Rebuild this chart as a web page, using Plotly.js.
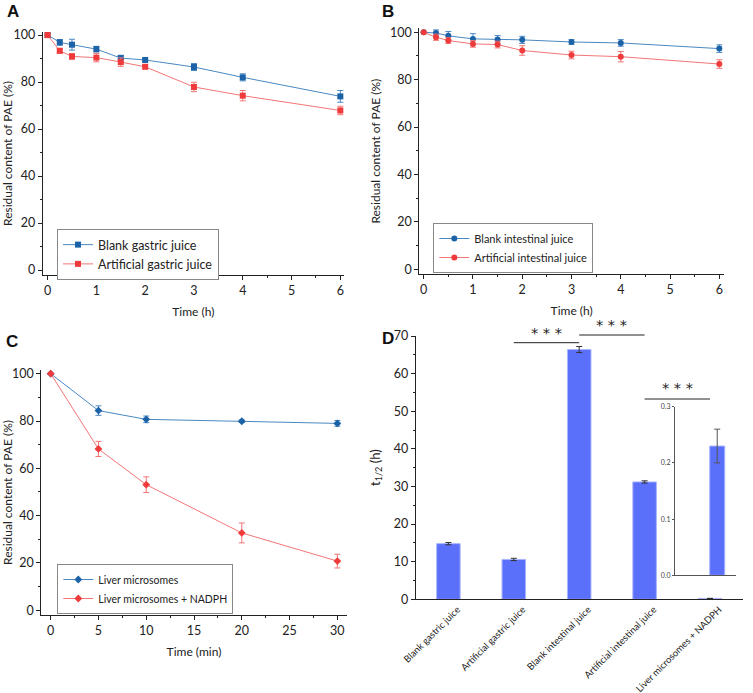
<!DOCTYPE html>
<html>
<head>
<meta charset="utf-8">
<script src="https://cdn.plot.ly/plotly-3.0.1.min.js"></script>
<style>
  html, body { margin: 0; padding: 0; background: #fff; }
  #chart { width: 753px; height: 693px; }
</style>
</head>
<body>
<div id="chart"></div>
<script>
// panel A - gastric juice
var timeH = [0, 0.25, 0.5, 1, 1.5, 2, 3, 4, 6];
var blankGastric = [100, 96.9, 95.9, 94.0, 90.2, 89.4, 86.4, 82.0, 73.9];
var blankGastricErr = [0, 1.2, 2.3, 1.2, 1.2, 0.7, 1.5, 1.5, 2.5];
var artGastric = [100, 93.3, 90.9, 90.4, 88.5, 86.5, 77.9, 74.2, 67.9];
var artGastricErr = [0, 1.0, 1.2, 1.8, 1.8, 0.8, 2.0, 2.2, 1.8];

// panel B - intestinal juice
var blankIntestinal = [100, 99.7, 98.5, 97.2, 97.0, 96.8, 95.9, 95.5, 93.1];
var blankIntestinalErr = [0, 1.3, 1.8, 2.2, 1.6, 1.5, 1.0, 1.4, 1.6];
var artIntestinal = [100, 97.9, 96.5, 95.1, 94.8, 92.3, 90.4, 89.7, 86.6];
var artIntestinalErr = [0, 1.3, 1.2, 1.4, 1.4, 2.0, 1.6, 2.2, 1.8];

// panel C - liver microsomes
var timeMin = [0, 5, 10, 20, 30];
var liver = [100, 84.4, 80.7, 79.9, 79.0];
var liverErr = [0, 2.0, 1.4, 0.5, 1.2];
var liverNadph = [100, 68.2, 53.1, 32.7, 20.8];
var liverNadphErr = [0, 3.2, 3.3, 4.2, 2.9];

// panel D - half lives
var groups = ['Blank gastric juice', 'Artificial gastric juice', 'Blank intestinal juice',
              'Artificial intestinal juice', 'Liver microsomes + NADPH'];
var halfLife = [14.8, 10.6, 66.4, 31.2, 0.23];
var halfLifeErr = [0.3, 0.3, 0.8, 0.3, 0.03];

// significance brackets between groups
var sigPairs = [[1, 2], [2, 3], [3, 4]];
var sigLineY = [342.7, 335, 399];   // px from top
var sigStarY = [330, 322, 385];

var H = 693, W = 753;
var BLUE = '#1c62a6', BLUE_L = '#4a88c2';
var RED = '#ef3b3b', RED_L = '#f27676';
var BAR = '#5a6ffa';
var FONT = 'Lato, sans-serif';

function py(px) { return 1 - px / H; }
function pxx(px) { return px / W; }

function lineTrace(x, y, err, name, color, lcolor, sym, xa, ya, leg) {
  return {
    x: x, y: y, name: name, type: 'scatter', mode: 'lines+markers',
    xaxis: xa, yaxis: ya, legend: leg,
    line: { color: lcolor, width: 1 },
    marker: { color: color, symbol: sym, size: 6 },
    error_y: { type: 'data', array: err, color: lcolor, thickness: 1, width: 3 },
    cliponaxis: false
  };
}

var data = [
  lineTrace(timeH, blankGastric, blankGastricErr, 'Blank gastric juice', BLUE, BLUE_L, 'square', 'x', 'y', 'legend'),
  lineTrace(timeH, artGastric, artGastricErr, 'Artificial gastric juice', RED, RED_L, 'square', 'x', 'y', 'legend'),
  lineTrace(timeH, blankIntestinal, blankIntestinalErr, 'Blank intestinal juice', BLUE, BLUE_L, 'circle', 'x2', 'y2', 'legend2'),
  lineTrace(timeH, artIntestinal, artIntestinalErr, 'Artificial intestinal juice', RED, RED_L, 'circle', 'x2', 'y2', 'legend2'),
  lineTrace(timeMin, liver, liverErr, 'Liver microsomes', BLUE, BLUE_L, 'diamond', 'x3', 'y3', 'legend3'),
  lineTrace(timeMin, liverNadph, liverNadphErr, 'Liver microsomes + NADPH', RED, RED_L, 'diamond', 'x3', 'y3', 'legend3'),
  {
    x: groups, y: halfLife, type: 'bar', xaxis: 'x4', yaxis: 'y4', showlegend: false,
    width: 0.36,
    marker: { color: BAR, line: { color: '#a9b5fc', width: 1 } },
    error_y: { type: 'data', array: halfLifeErr, color: '#333', thickness: 1, width: 3 }
  },
  {
    x: groups.slice(4), y: halfLife.slice(4), type: 'bar', xaxis: 'x5', yaxis: 'y5', showlegend: false,
    width: 0.32,
    marker: { color: BAR, line: { color: '#a9b5fc', width: 1 } },
    error_y: { type: 'data', array: halfLifeErr.slice(4), color: '#555', thickness: 1, width: 3 }
  }
];

var tickFont = { family: FONT, size: 12.5, color: '#222' };
var titleFont = { family: FONT, size: 12, color: '#222' };

function xAx(domain, range, dtick, minor, title, anchor) {
  return {
    domain: domain, range: range, anchor: anchor, dtick: dtick, tick0: 0,
    showline: true, linecolor: '#222', linewidth: 1, showgrid: false, zeroline: false,
    ticks: 'outside', ticklen: 4, tickcolor: '#222', tickfont: tickFont,
    minor: { dtick: minor, ticks: 'outside', ticklen: 2, tickcolor: '#222', showgrid: false },
    title: { text: title, font: titleFont, standoff: 10 }
  };
}
function yAx(domain, range, dtick, minor, title, anchor) {
  return {
    domain: domain, range: range, anchor: anchor, dtick: dtick, tick0: 0,
    showline: true, linecolor: '#222', linewidth: 1, showgrid: false, zeroline: false,
    ticks: 'outside', ticklen: 4, tickcolor: '#222', tickfont: tickFont,
    minor: { dtick: minor, ticks: 'outside', ticklen: 2, tickcolor: '#222', showgrid: false },
    title: { text: title, font: titleFont, standoff: 6 }
  };
}

var yTitle = 'Residual content of PAE (%)';

var layout = {
  width: W, height: H,
  margin: { l: 0, r: 0, t: 0, b: 0 },
  paper_bgcolor: '#fff', plot_bgcolor: 'rgba(0,0,0,0)',
  font: { family: FONT, color: '#222' },
  showlegend: true,
  xaxis: xAx([pxx(42.7), pxx(344)], [-0.1, 6.075], 1, 0.5, 'Time (h)', 'y'),
  yaxis: yAx([py(275), py(32)], [-2.13, 101.3], 20, 10, yTitle, 'x'),
  xaxis2: xAx([pxx(419.3), pxx(724)], [-0.089, 6.095], 1, 0.5, 'Time (h)', 'y2'),
  yaxis2: yAx([py(274.3), py(28)], [-2.11, 101.8], 20, 10, yTitle, 'x2'),
  xaxis3: xAx([pxx(41.3), pxx(346.7)], [-0.98, 30.98], 5, 2.5, 'Time (min)', 'y3'),
  yaxis3: yAx([py(615), py(370)], [-1.99, 101.56], 20, 10, yTitle, 'x3'),
  xaxis4: {
    domain: [pxx(415.7), pxx(742.7)], range: [-0.5, 4.5], anchor: 'y4', type: 'category',
    showline: true, linecolor: '#222', linewidth: 1, showgrid: false, zeroline: false,
    ticks: '', tickangle: -45, ticklabelshift: 9, ticklabelstandoff: 0,
    tickfont: { family: FONT, size: 9.5, color: '#222' }
  },
  yaxis4: {
    domain: [py(599.3), py(336)], range: [0, 70], anchor: 'x4', dtick: 10,
    showline: true, linecolor: '#222', linewidth: 1, showgrid: false, zeroline: false,
    ticks: 'outside', ticklen: 4, tickcolor: '#222', tickfont: tickFont,
    minor: { dtick: 5, ticks: 'outside', ticklen: 2, tickcolor: '#222', showgrid: false },
    title: { text: 't<sub>1/2</sub> (h)', font: { family: FONT, size: 13, color: '#222' }, standoff: 10 }
  },
  xaxis5: {
    domain: [pxx(675), pxx(736)], range: [3.1, 4.4], anchor: 'y5', type: 'category',
    categoryorder: 'array', categoryarray: groups,
    showline: true, linecolor: '#555', linewidth: 1, showgrid: false, zeroline: false,
    ticks: '', showticklabels: false
  },
  yaxis5: {
    domain: [py(575.3), py(406.7)], range: [0, 0.3], anchor: 'x5', dtick: 0.1, tickformat: '.1f',
    showline: true, linecolor: '#555', linewidth: 1, showgrid: false, zeroline: false,
    ticks: 'outside', ticklen: 2, tickcolor: '#555',
    tickfont: { family: FONT, size: 7, color: '#444' }
  },
  legend: {
    x: pxx(57), y: py(229), xanchor: 'left', yanchor: 'top',
    bordercolor: '#888', borderwidth: 1, bgcolor: '#fff',
    font: { family: FONT, size: 12.5, color: '#222' }, itemwidth: 30, tracegroupgap: 0
  },
  legend2: {
    x: pxx(433.3), y: py(223), xanchor: 'left', yanchor: 'top',
    bordercolor: '#888', borderwidth: 1, bgcolor: '#fff',
    font: { family: FONT, size: 11, color: '#222' }, itemwidth: 30, tracegroupgap: 0
  },
  legend3: {
    x: pxx(57.3), y: py(564), xanchor: 'left', yanchor: 'top',
    bordercolor: '#888', borderwidth: 1, bgcolor: '#fff',
    font: { family: FONT, size: 10.5, color: '#222' }, itemwidth: 30, tracegroupgap: 0
  },
  shapes: [],
  annotations: []
};

// panel letters
var letters = [['A', 13, 12], ['B', 388, 12], ['C', 12, 341], ['D', 388, 338]];
letters.forEach(function (l) {
  layout.annotations.push({
    text: '<b>' + l[0] + '</b>', xref: 'paper', yref: 'paper',
    x: pxx(l[1]), y: py(l[2]), xanchor: 'center', yanchor: 'middle', showarrow: false,
    font: { family: 'Liberation Sans, Arial, sans-serif', size: 17, color: '#111' }
  });
});

// significance brackets
sigPairs.forEach(function (p, i) {
  layout.shapes.push({
    type: 'line', xref: 'x4', yref: 'paper',
    x0: p[0], x1: p[1], y0: py(sigLineY[i]), y1: py(sigLineY[i]),
    line: { color: '#222', width: 1 }
  });
  layout.annotations.push({
    text: '* * *', xref: 'x4', yref: 'paper',
    x: (p[0] + p[1]) / 2, y: py(sigStarY[i] + 3), xanchor: 'center', yanchor: 'middle',
    showarrow: false, font: { family: 'DejaVu Sans, sans-serif', size: 14.5, color: '#222' }
  });
});

Plotly.newPlot('chart', data, layout, { displayModeBar: false, staticPlot: true });
</script>
</body>
</html>
